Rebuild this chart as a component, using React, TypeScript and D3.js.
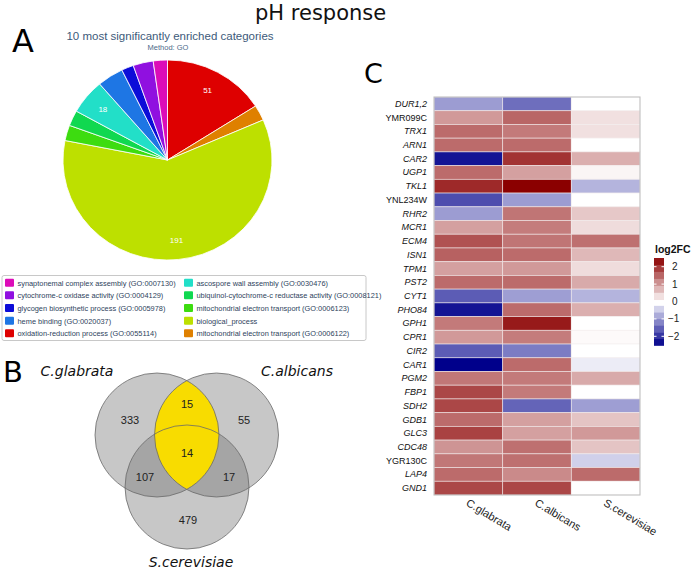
import React from 'react';
import * as d3 from 'd3';

// ---------- Panel A: pie ----------
const pieCategories = [
  'oxidation-reduction process (GO:0055114)',
  'mitochondrial electron transport (GO:0006122)',
  'biological_process',
  'mitochondrial electron transport (GO:0006123)',
  'ubiquinol-cytochrome-c reductase activity (GO:0008121)',
  'ascospore wall assembly (GO:0030476)',
  'heme binding (GO:0020037)',
  'glycogen biosynthetic process (GO:0005978)',
  'cytochrome-c oxidase activity (GO:0004129)',
  'synaptonemal complex assembly (GO:0007130)',
];
const pieValues = [51, 8, 191, 8, 8, 18, 13, 6, 10, 7];
const pieColors = ['#de0000', '#df8000', '#bde000', '#3ddc10', '#10d850', '#22dfc8', '#1e76e4', '#0c0cd8', '#9010e0', '#dc0cb8'];
const pieLabelled = [51, 191, 18];
// legend order: column 1 then column 2 (indices into pieCategories)
const legendCol1 = [9, 8, 7, 6, 0];
const legendCol2 = [5, 4, 3, 2, 1];

// ---------- Panel B: Venn ----------
const vennSets = ['C.glabrata', 'C.albicans', 'S.cerevisiae'];
const vennCounts = { g: 333, a: 55, s: 479, ga: 15, gs: 107, as: 17, gas: 14 };

// ---------- Panel C: heatmap ----------
const heatGenes = ['DUR1,2', 'YMR099C', 'TRX1', 'ARN1', 'CAR2', 'UGP1', 'TKL1', 'YNL234W', 'RHR2', 'MCR1', 'ECM4', 'ISN1', 'TPM1', 'PST2', 'CYT1', 'PHO84', 'GPH1', 'CPR1', 'CIR2', 'CAR1', 'PGM2', 'FBP1', 'SDH2', 'GDB1', 'GLC3', 'CDC48', 'YGR130C', 'LAP4', 'GND1'];
const heatSpecies = ['C.glabrata', 'C.albicans', 'S.cerevisiae'];
const glabrataFC = [-0.97, 1.0, 1.45, 1.45, -2.3, 1.45, 2.1, -1.75, -0.97, 0.93, 1.7, 1.55, 0.93, 1.45, -1.6, -2.3, 1.3, 1.0, -1.6, -2.5, 1.33, 1.8, 1.8, 1.45, 1.85, 1.05, 1.33, 1.45, 1.8];
const albicansFC = [-1.42, 1.5, 1.3, 1.45, 2.0, 0.93, 2.5, -0.97, 1.35, 1.28, 1.35, 1.45, 1.0, 1.45, -0.95, 1.45, 2.25, 1.28, -1.28, 1.45, 1.3, 1.3, -1.52, 0.93, 0.93, 1.4, 1.4, 1.15, 1.8];
const cerevisiaeFC = [0, 0.3, 0.3, 0, 0.78, 0.1, -0.74, 0, 0.54, 0.34, 1.4, 0.7, 0.34, 0.83, -0.74, 0.78, 0, 0.05, 0, -0.19, 0.83, 0, -0.95, 0.58, 1.0, 0.58, -0.46, 1.45, 0];
const legendTicks = [2, 1, 0, -1, -2];
const uprightGenes = ['YMR099C', 'YNL234W', 'YGR130C'];

const W = 693;
const H = 570;

export default function App() {
  // pie
  const pcx = 167.5, pcy = 160, pr = 100, psx = 1.045;
  const pie = d3.pie<number>().sort(null).startAngle(0).endAngle(2 * Math.PI);
  const arcs = pie(pieValues);
  const arc = d3.arc<d3.PieArcDatum<number>>().innerRadius(0).outerRadius(pr);
  const labelArc = d3.arc<d3.PieArcDatum<number>>().innerRadius(pr * 0.8).outerRadius(pr * 0.8);

  // venn
  const vr = 62;
  const c1 = { x: 157, y: 435 };
  const c2 = { x: 216.5, y: 435 };
  const c3 = { x: 187, y: 487 };

  // heatmap
  const x = d3.scaleBand<string>().domain(heatSpecies).range([434, 640]);
  const y = d3.scaleBand<string>().domain(heatGenes).range([97, 495]);
  const color = d3.scaleLinear<string>().domain([-2.5, 0, 2.5]).range(['#00008b', '#ffffff', '#8b0000']).clamp(true);
  const seriesByCol = [glabrataFC, albicansFC, cerevisiaeFC];

  // legend scale
  const ly = d3.scaleLinear().domain([2.5, -2.5]).range([258, 345]);
  const redBins = d3.range(6).map((i) => [2.5 - i * 0.4, 2.5 - (i + 1) * 0.4]);
  const blueBins = d3.range(6).map((i) => [-0.25 - i * 0.38, -0.25 - (i + 1) * 0.38]);

  const sans = 'Liberation Sans, Arial, sans-serif';
  const dv = 'DejaVu Sans, sans-serif';

  return (
    <svg width={W} height={H} style={{ position: 'absolute', left: 0, top: 0, background: '#fff' }}>
      <rect width={W} height={H} fill="#fff" />
      <text x={255} y={20} fontFamily={dv} fontSize={21} fill="#111">pH response</text>

      {/* Panel A */}
      <text x={12} y={52} fontFamily={dv} fontSize={32} fill="#000">A</text>
      <text x={170} y={40} textAnchor="middle" fontFamily={sans} fontSize={11.5} fill="#3d5a7a">10 most significantly enriched categories</text>
      <text x={168} y={50} textAnchor="middle" fontFamily={sans} fontSize={7.5} fill="#4d6a8a">Method: GO</text>
      <g transform={`translate(${pcx},${pcy}) scale(${psx},1)`}>
        {arcs.map((a, i) => (
          <path key={i} d={arc(a) || ''} fill={pieColors[i]} stroke="#fff" strokeWidth={0.8} />
        ))}
      </g>
      {arcs.map((a, i) => {
        if (!pieLabelled.includes(pieValues[i])) return null;
        const [lx, lyy] = labelArc.centroid(a);
        return (
          <text key={i} x={pcx + lx * psx} y={pcy + lyy + 3} textAnchor="middle" fontFamily={sans} fontSize={8} fill="#fff">
            {pieValues[i]}
          </text>
        );
      })}
      <rect x={2} y={275.5} width={364} height={65} fill="#fff" stroke="#c8c8c8" strokeWidth={1} rx={2} />
      {[legendCol1, legendCol2].map((col, ci) =>
        col.map((idx, ri) => {
          const lx0 = ci === 0 ? 5 : 184;
          const yy = 282.7 + ri * 12.65;
          return (
            <g key={`${ci}-${ri}`}>
              <rect x={lx0} y={yy - 4} width={9} height={8} fill={pieColors[idx]} rx={1} />
              <text x={lx0 + 12.5} y={yy + 3} fontFamily={sans} fontSize={7.4} fill="#2e3f5c">{pieCategories[idx]}</text>
            </g>
          );
        })
      )}

      {/* Panel B */}
      <text x={3} y={382} fontFamily={dv} fontSize={29} fill="#000">B</text>
      <defs>
        <clipPath id="clip1"><circle cx={c1.x} cy={c1.y} r={vr} /></clipPath>
        <clipPath id="clip2"><circle cx={c2.x} cy={c2.y} r={vr} /></clipPath>
        <clipPath id="clip3"><circle cx={c3.x} cy={c3.y} r={vr} /></clipPath>
      </defs>
      {[c1, c2, c3].map((c, i) => (
        <circle key={i} cx={c.x} cy={c.y} r={vr} fill="#c7c7c7" />
      ))}
      <g clipPath="url(#clip3)">
        <circle cx={c1.x} cy={c1.y} r={vr} fill="#a5a5a5" />
        <circle cx={c2.x} cy={c2.y} r={vr} fill="#a5a5a5" />
      </g>
      <g clipPath="url(#clip1)">
        <circle cx={c2.x} cy={c2.y} r={vr} fill="#f8dc00" />
      </g>
      {[c1, c2, c3].map((c, i) => (
        <circle key={`o${i}`} cx={c.x} cy={c.y} r={vr} fill="none" stroke="#6a6a6a" strokeWidth={0.8} />
      ))}
      <g fontFamily={sans} fontSize={11} fill="#222" textAnchor="middle">
        <text x={130} y={424}>{vennCounts.g}</text>
        <text x={187} y={408}>{vennCounts.ga}</text>
        <text x={244} y={424}>{vennCounts.a}</text>
        <text x={187} y={457}>{vennCounts.gas}</text>
        <text x={145} y={481}>{vennCounts.gs}</text>
        <text x={229} y={481}>{vennCounts.as}</text>
        <text x={188} y={524}>{vennCounts.s}</text>
      </g>
      <g fontFamily={dv} fontStyle="italic" fontSize={14} fill="#111" textAnchor="middle">
        <text x={77} y={376}>{vennSets[0]}</text>
        <text x={297} y={376}>{vennSets[1]}</text>
        <text x={191} y={567}>{vennSets[2]}</text>
      </g>

      {/* Panel C */}
      <text x={364} y={83} fontFamily={dv} fontSize={27} fill="#000">C</text>
      {seriesByCol.map((vals, ci) =>
        vals.map((v, ri) => (
          <rect
            key={`${ci}-${ri}`}
            x={x(heatSpecies[ci])}
            y={y(heatGenes[ri])}
            width={x.bandwidth()}
            height={y.bandwidth()}
            fill={color(v)}
            stroke="#f4eeee"
            strokeOpacity={0.7}
            strokeWidth={0.8}
          />
        ))
      )}
      <rect x={434} y={97} width={206} height={398} fill="none" stroke="#bdbdbd" strokeWidth={1} />
      {heatGenes.map((g) => (
        <text
          key={g}
          x={427}
          y={(y(g) || 0) + y.bandwidth() / 2 + 3}
          textAnchor="end"
          fontFamily={sans}
          fontSize={9}
          fontStyle={uprightGenes.includes(g) ? 'normal' : 'italic'}
          fill="#111"
        >
          {g}
        </text>
      ))}
      {heatSpecies.map((s) => (
        <text
          key={s}
          transform={`translate(${(x(s) || 0) + x.bandwidth() / 2 - 3},${505}) rotate(31)`}
          fontFamily={sans}
          fontSize={11}
          fill="#222"
        >
          {s}
        </text>
      ))}
      {/* legend */}
      <text x={655} y={253} fontFamily={sans} fontSize={10.5} fontWeight="bold" fill="#111">log2FC</text>
      {redBins.map(([a, b], i) => (
        <rect key={`r${i}`} x={654} y={ly(a)} width={10} height={ly(b) - ly(a) + 0.3} fill={color((a + b) / 2)} />
      ))}
      {blueBins.map(([a, b], i) => (
        <rect key={`b${i}`} x={654} y={ly(a)} width={10} height={ly(b) - ly(a) + 0.3} fill={color((a + b) / 2)} />
      ))}
      {legendTicks.map((t) => (
        <g key={t}>
          {t !== 0 && <line x1={654} x2={656.5} y1={ly(t)} y2={ly(t)} stroke="#fff" strokeWidth={1} />}
          {t !== 0 && <line x1={661.5} x2={664} y1={ly(t)} y2={ly(t)} stroke="#fff" strokeWidth={1} />}
          <text x={t < 0 ? 668 : 672} y={ly(t) + 3.5} fontFamily={sans} fontSize={10} fill="#222">
            {t < 0 ? `\u2212${Math.abs(t)}` : t}
          </text>
        </g>
      ))}
    </svg>
  );
}
